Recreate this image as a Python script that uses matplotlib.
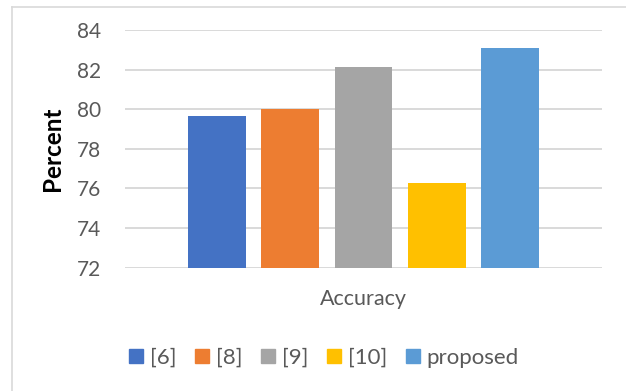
import matplotlib
matplotlib.use("Agg")
import matplotlib.pyplot as plt
from matplotlib.patches import Rectangle
from matplotlib.lines import Line2D

series = ["[6]", "[8]", "[9]", "[10]", "proposed"]
values = [79.66, 80.02, 82.14, 76.29, 83.10]
colors = ["#4472C4", "#ED7D31", "#A5A5A5", "#FFC000", "#5B9BD5"]
category = "Accuracy"
yticks = [72, 74, 76, 78, 80, 82, 84]

W, H = 626, 391
fig = plt.figure(figsize=(W / 100, H / 100), dpi=100)
fig.patch.set_facecolor("white")

FONT = "Lato"
GRAY = "#595959"

ax = fig.add_axes([125 / W, 1 - 267.7 / H, (602 - 125) / W, (267.7 - 30) / H])
ax.set_facecolor("white")
n = len(series)
for i, (s, v, c) in enumerate(zip(series, values, colors)):
    off = i - (n - 1) / 2
    ax.bar(off, v - 72, bottom=72, width=0.79, color=c, label=s, zorder=3)

ax.set_xlim(-3.25, 3.25)
ax.set_ylim(72, 84)
ax.set_yticks(yticks)
ax.set_yticklabels([str(t) for t in yticks], fontfamily=FONT, fontsize=15, color=GRAY)
ax.tick_params(axis="y", length=0, pad=17)
ax.set_xticks([])
for sp in ax.spines.values():
    sp.set_visible(False)
ax.grid(axis="y", color="#D9D9D9", linewidth=1.4, zorder=0)
ax.set_axisbelow(True)

fig.text(363 / W, 1 - 299 / H, category, ha="center", va="center",
         fontfamily=FONT, fontsize=15.5, color=GRAY)
fig.text(53 / W, 1 - 149 / H, "Percent", ha="center", va="center", rotation=90,
         fontfamily=FONT, fontsize=17.5, fontweight="bold", color="black")

# Legend
handles = [Rectangle((0, 0), 1, 1, color=c) for c in colors]
leg = fig.legend(handles, series, loc="center", bbox_to_anchor=(324 / W, 1 - 358 / H),
                 ncol=n, frameon=False, handlelength=0.63, handleheight=0.63,
                 handletextpad=0.3, columnspacing=0.85,
                 prop={"family": FONT, "size": 16})
for t in leg.get_texts():
    t.set_color(GRAY)

# chart border
fig.add_artist(Line2D([12 / W, 12 / W], [0, 1 - 7 / H], transform=fig.transFigure,
                      color="#D9D9D9", linewidth=1.2))
fig.add_artist(Line2D([12 / W, 1], [1 - 7 / H, 1 - 7 / H], transform=fig.transFigure,
                      color="#D9D9D9", linewidth=1.2))

fig.savefig("out.png", dpi=100, facecolor="white")
